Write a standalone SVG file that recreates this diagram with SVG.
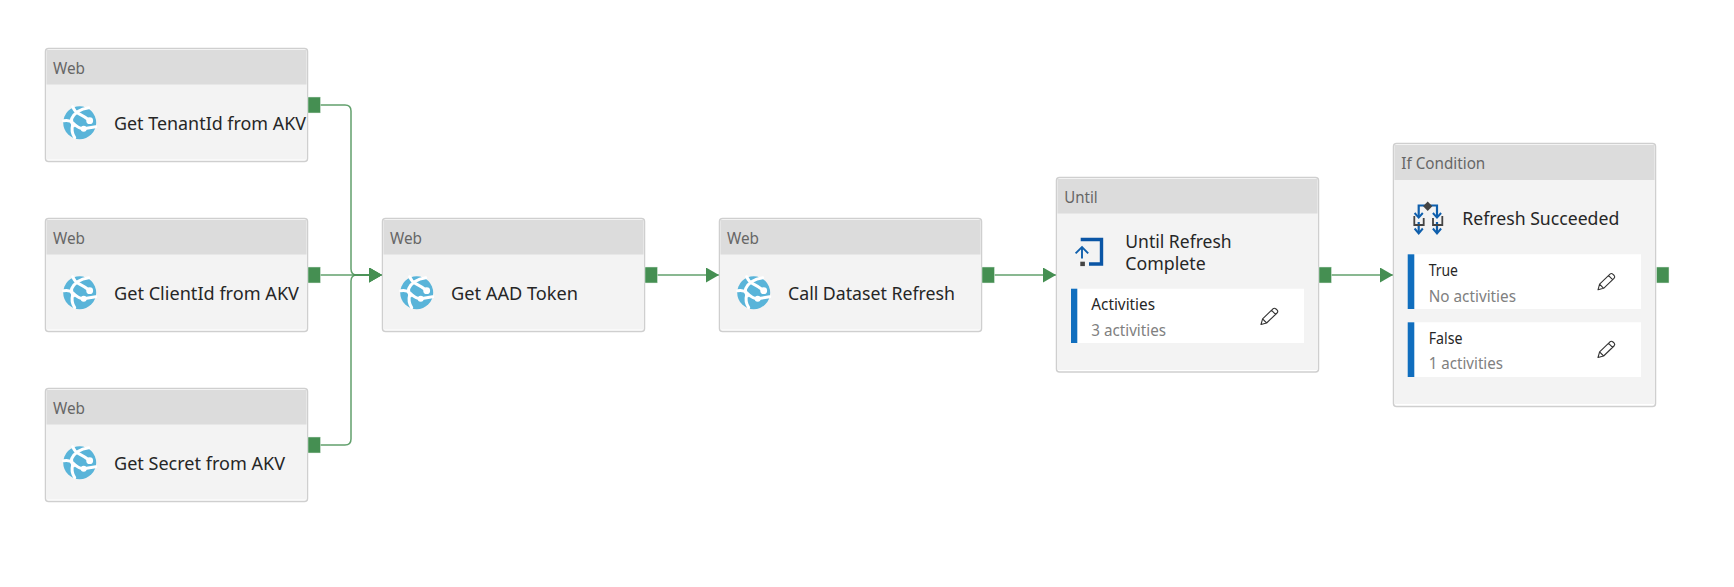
<svg xmlns="http://www.w3.org/2000/svg" xmlns:xlink="http://www.w3.org/1999/xlink" width="1734" height="587" viewBox="0 0 1734 587">
<style>
text{font-family:"Noto Sans","Open Sans","Liberation Sans",sans-serif}
.frame{fill:#fff;stroke:#cfcfcf;stroke-width:1.5}
.body{fill:#f3f3f3}
.head{fill:#dcdcdc}
.port{fill:#458f52;stroke:#e4efe6;stroke-width:.5}
.kind{font-size:15.4px;fill:#666}
.name{font-size:17.8px;fill:#262626}
.sec{font-size:15.4px;fill:#262626}
.sub{font-size:15.4px;fill:#808080}
.conn{fill:none;stroke:#458f52;stroke-width:1.5;stroke-opacity:.85}
.panel{fill:#fff}
.bar{fill:#106ebe}
.pen{fill:none;stroke:#333;stroke-width:1.1;stroke-linejoin:round}
.blue{fill:none;stroke:#0f5fac;stroke-width:2.2}
.blueS{fill:none;stroke:#0a55a5;stroke-width:3.4}
.grey{fill:none;stroke:#444;stroke-width:1.8}
</style>
<defs>
<marker id="arrow" markerUnits="userSpaceOnUse" markerWidth="14" markerHeight="16" refX="13" refY="7.5" orient="auto"><path d="M0,0 L13,7.5 L0,15 Z" fill="#458f52"/></marker>
<g id="globe">
<circle r="16.5" fill="#59b4d9"/>
<g fill="none" stroke="#fff" stroke-width="3" stroke-linecap="round">
<path d="M-7,-16 Q-5,-11 -1,-9 Q5,-6 10,-2"/>
<path d="M9,-15 Q-4,-13 -8,-4 Q-9,0 -6,3"/>
<path d="M-16,-2 Q-10,-3 -7,0 Q-1,6 4,6 L16,4"/>
<path d="M-7,2 Q-9,9 -5,15"/>
</g>
<circle cx="10" cy="-2" r="3.4" fill="#fff"/>
<circle cx="4" cy="6" r="3" fill="#fff"/>
</g>
<path id="pencil" class="pen" d="M0,16.5 L1.6,10.8 L12,0.8 Q13.5,-0.4 15,1 L16.2,2.2 Q17.4,3.6 16,5 L5.6,15 Z M1.6,10.8 L5.6,15 M10.6,2.4 L14.6,6.4"/>
</defs>

<g id="connectors">
<path class="conn" marker-end="url(#arrow)" d="M320,105 H345 Q351,105 351,111 V269 Q351,275 357,275 H382"/>
<path class="conn" marker-end="url(#arrow)" d="M320,275 H382"/>
<path class="conn" marker-end="url(#arrow)" d="M320,445 H345 Q351,445 351,439 V281 Q351,275 357,275 H382"/>
<path class="conn" marker-end="url(#arrow)" d="M657,275 H719"/>
<path class="conn" marker-end="url(#arrow)" d="M994,275 H1056"/>
<path class="conn" marker-end="url(#arrow)" d="M1331,275 H1393"/>
</g>

<g id="node-tenant">
<rect class="frame" x="45.5" y="48.5" width="262" height="113" rx="3"/>
<rect class="body" x="46.5" y="84" width="260" height="75.5"/>
<rect class="head" x="46.5" y="50" width="260" height="34.5"/>
<text class="kind" x="53" y="74" textLength="32" lengthAdjust="spacingAndGlyphs">Web</text>
<use href="#globe" x="79.7" y="122.7"/>
<text class="name" x="114" y="130" textLength="192" lengthAdjust="spacingAndGlyphs">Get TenantId from AKV</text>
<rect class="port" x="308" y="97" width="12.5" height="16"/>
</g>
<g id="node-client">
<rect class="frame" x="45.5" y="218.5" width="262" height="113" rx="3"/>
<rect class="body" x="46.5" y="254" width="260" height="75.5"/>
<rect class="head" x="46.5" y="220" width="260" height="34.5"/>
<text class="kind" x="53" y="244" textLength="32" lengthAdjust="spacingAndGlyphs">Web</text>
<use href="#globe" x="79.7" y="292.7"/>
<text class="name" x="114" y="300" textLength="185" lengthAdjust="spacingAndGlyphs">Get ClientId from AKV</text>
<rect class="port" x="308" y="267" width="12.5" height="16"/>
</g>
<g id="node-secret">
<rect class="frame" x="45.5" y="388.5" width="262" height="113" rx="3"/>
<rect class="body" x="46.5" y="424" width="260" height="75.5"/>
<rect class="head" x="46.5" y="390" width="260" height="34.5"/>
<text class="kind" x="53" y="414" textLength="32" lengthAdjust="spacingAndGlyphs">Web</text>
<use href="#globe" x="79.7" y="462.7"/>
<text class="name" x="114" y="470" textLength="171" lengthAdjust="spacingAndGlyphs">Get Secret from AKV</text>
<rect class="port" x="308" y="437" width="12.5" height="16"/>
</g>
<g id="node-aad">
<rect class="frame" x="382.5" y="218.5" width="262" height="113" rx="3"/>
<rect class="body" x="383.5" y="254" width="260" height="75.5"/>
<rect class="head" x="383.5" y="220" width="260" height="34.5"/>
<text class="kind" x="390" y="244" textLength="32" lengthAdjust="spacingAndGlyphs">Web</text>
<use href="#globe" x="416.7" y="292.7"/>
<text class="name" x="451" y="300" textLength="127" lengthAdjust="spacingAndGlyphs">Get AAD Token</text>
<rect class="port" x="645" y="267" width="12.5" height="16"/>
</g>
<g id="node-call">
<rect class="frame" x="719.5" y="218.5" width="262" height="113" rx="3"/>
<rect class="body" x="720.5" y="254" width="260" height="75.5"/>
<rect class="head" x="720.5" y="220" width="260" height="34.5"/>
<text class="kind" x="727" y="244" textLength="32" lengthAdjust="spacingAndGlyphs">Web</text>
<use href="#globe" x="753.7" y="292.7"/>
<text class="name" x="788" y="300" textLength="167" lengthAdjust="spacingAndGlyphs">Call Dataset Refresh</text>
<rect class="port" x="982" y="267" width="12.5" height="16"/>
</g>
<g id="node-until">
<rect class="frame" x="1056.5" y="177.5" width="262" height="194.5" rx="3"/>
<rect class="body" x="1057.5" y="213" width="260" height="157"/>
<rect class="head" x="1057.5" y="179" width="260" height="34.5"/>
<text class="kind" x="1064.3" y="203" textLength="33.4" lengthAdjust="spacingAndGlyphs">Until</text>
<path class="blueS" d="M1080.7,239.5 H1101.5 V264 H1089"/>
<rect x="1080.3" y="261.7" width="4.6" height="4.4" fill="#444"/>
<path d="M1075.6,253.4 L1082,247 L1088.2,253.4 M1082,247 V258.5" fill="none" stroke="#0f5fac" stroke-width="1.9"/>
<text class="name" x="1125.3" y="248.3" textLength="106.4" lengthAdjust="spacingAndGlyphs">Until Refresh</text>
<text class="name" x="1125.3" y="270" textLength="80.4" lengthAdjust="spacingAndGlyphs">Complete</text>
<rect class="panel" x="1071" y="288.7" width="233" height="54.3"/>
<rect class="bar" x="1071" y="288.7" width="6.3" height="54.3"/>
<text class="sec" x="1091.3" y="310" textLength="63.7" lengthAdjust="spacingAndGlyphs">Activities</text>
<text class="sub" x="1091.3" y="336" textLength="74.7" lengthAdjust="spacingAndGlyphs">3 activities</text>
<use href="#pencil" x="1261" y="308"/>
<rect class="port" x="1319" y="267" width="12.5" height="16"/>
</g>
<g id="node-if">
<rect class="frame" x="1393.5" y="143.5" width="262" height="263" rx="3"/>
<rect class="body" x="1394.5" y="179.5" width="260" height="224.5"/>
<rect class="head" x="1394.5" y="145" width="260" height="35"/>
<text class="kind" x="1401.3" y="169" textLength="84" lengthAdjust="spacingAndGlyphs">If Condition</text>
<path class="blue" d="M1418.7,216 V205.5 H1437 V216 M1418.7,222 V232 M1437,222 V232"/>
<path d="M1414.6,213 L1418.7,217.6 L1422.8,213 M1432.9,213 L1437,217.6 L1441.1,213 M1414.6,228.5 L1418.7,233.4 L1422.8,228.5 M1432.9,228.5 L1437,233.4 L1441.1,228.5" fill="none" stroke="#0f5fac" stroke-width="2"/>
<path class="grey" d="M1414.3,216 V225 H1423.7 V218 M1433,218 V225 H1442.3 V216"/>
<path d="M1427.7,201.6 L1432.3,206.3 L1427.7,211 L1423.1,206.3 Z" fill="#444"/>
<text class="name" x="1462.3" y="225" textLength="157" lengthAdjust="spacingAndGlyphs">Refresh Succeeded</text>
<rect class="panel" x="1407.7" y="254.3" width="233.3" height="54.7"/>
<rect class="bar" x="1407.7" y="254.3" width="6.6" height="54.7"/>
<text class="sec" x="1428.7" y="276" textLength="29.3" lengthAdjust="spacingAndGlyphs">True</text>
<text class="sub" x="1428.7" y="302" textLength="87.3" lengthAdjust="spacingAndGlyphs">No activities</text>
<use href="#pencil" x="1598" y="273.3"/>
<rect class="panel" x="1407.7" y="322.3" width="233.3" height="54.7"/>
<rect class="bar" x="1407.7" y="322.3" width="6.6" height="54.7"/>
<text class="sec" x="1428.7" y="344" textLength="33.8" lengthAdjust="spacingAndGlyphs">False</text>
<text class="sub" x="1428.7" y="369" textLength="74.3" lengthAdjust="spacingAndGlyphs">1 activities</text>
<use href="#pencil" x="1598" y="341"/>
<rect class="port" x="1656.5" y="267" width="12.5" height="16"/>
</g>
</svg>
